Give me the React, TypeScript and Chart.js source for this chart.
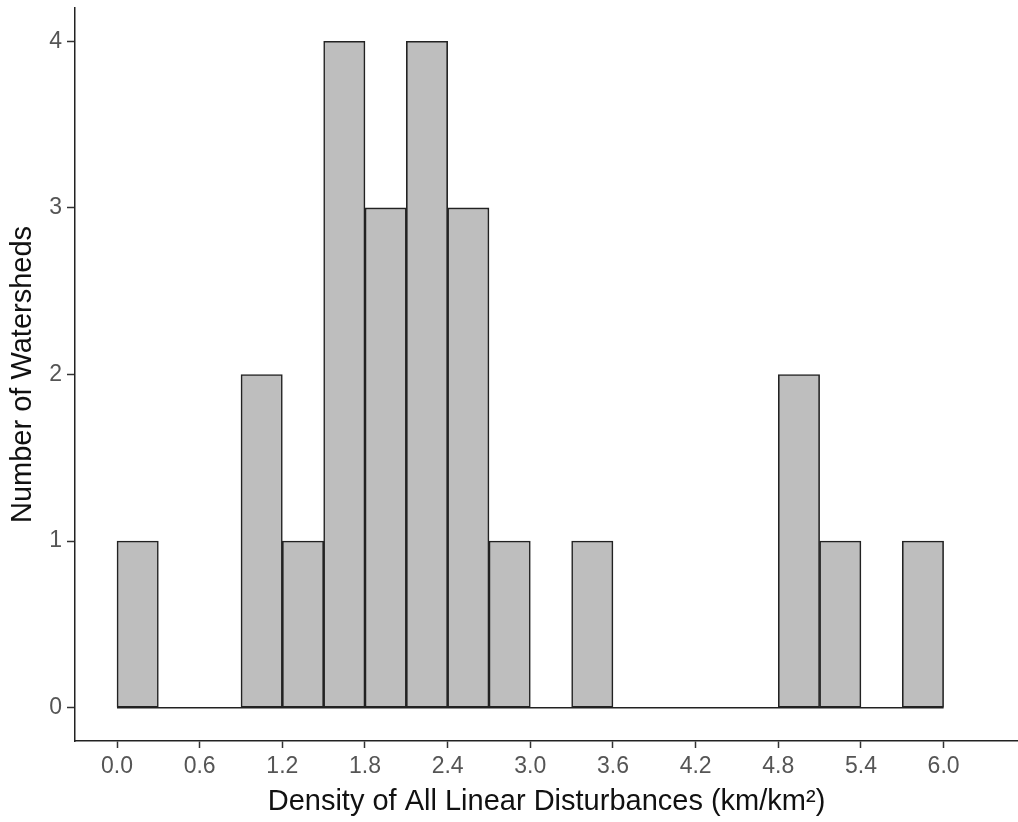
import React, { useEffect, useRef } from "react";
import { Chart, registerables } from "chart.js";

Chart.register(...registerables);

const binCenters = [0.15, 0.45, 0.75, 1.05, 1.35, 1.65, 1.95, 2.25, 2.55, 2.85, 3.15, 3.45, 3.75, 4.05, 4.35, 4.65, 4.95, 5.25, 5.55, 5.85];
const counts = [1, 0, 0, 2, 1, 4, 3, 4, 3, 1, 0, 1, 0, 0, 0, 0, 2, 1, 0, 1];
const baselineX = [0, 6];
const xTicks = [0, 0.6, 1.2, 1.8, 2.4, 3.0, 3.6, 4.2, 4.8, 5.4, 6.0];
const yTicks = [0, 1, 2, 3, 4];
const xTitle = "Density of All Linear Disturbances (km/km²)";
const yTitle = "Number of Watersheds";

export default function App() {
  const ref = useRef<HTMLCanvasElement>(null);
  useEffect(() => {
    const font = "'Liberation Sans', Arial, sans-serif";
    const chart = new Chart(ref.current!, {
      data: {
        datasets: [
          {
            type: "bar",
            data: binCenters.map((x, i) => ({ x, y: counts[i] })),
            backgroundColor: "#BEBEBE",
            borderColor: "#222222",
            borderWidth: 1.6,
            borderSkipped: false,
            barPercentage: 1,
            categoryPercentage: 1,
            order: 2,
          },
          {
            type: "line",
            data: baselineX.map((x) => ({ x, y: 0 })),
            borderColor: "#222222",
            borderWidth: 1.6,
            pointRadius: 0,
            order: 1,
          },
        ],
      },
      options: {
        animation: false,
        responsive: false,
        layout: { padding: { top: 8, right: 0, left: 0, bottom: 0 } },
        plugins: { legend: { display: false }, tooltip: { enabled: false } },
        scales: {
          x: {
            type: "linear",
            offset: false,
            min: -0.305,
            max: 6.54,
            afterBuildTicks: (s: any) => {
              s.ticks = xTicks.map((v) => ({ value: v }));
            },
            afterFit: (s: any) => {
              s.height = 81;
              s.paddingLeft = 0;
              s.paddingRight = 0;
            },
            ticks: {
              callback: (v: any) => Number(v).toFixed(1),
              color: "#555555",
              font: { family: font, size: 23 },
              padding: 5,
              maxRotation: 0,
              autoSkip: false,
            },
            grid: { offset: false, drawOnChartArea: false, drawTicks: true, tickLength: 7, tickColor: "#333333", tickWidth: 1.5 },
            border: { display: true, color: "#222222", width: 1.5 },
            title: { display: true, text: xTitle, color: "#111111", font: { family: font, size: 29 }, padding: { top: 0, bottom: 3 } },
          },
          y: {
            type: "linear",
            min: -0.2,
            max: 4.2,
            afterBuildTicks: (s: any) => {
              s.ticks = yTicks.map((v) => ({ value: v }));
            },
            afterFit: (s: any) => {
              s.width = 75;
              s.paddingTop = 0;
              s.paddingBottom = 0;
            },
            ticks: {
              color: "#555555",
              font: { family: font, size: 23 },
              padding: 5,
            },
            grid: { drawOnChartArea: false, drawTicks: true, tickLength: 8, tickColor: "#333333", tickWidth: 1.5 },
            border: { display: true, color: "#222222", width: 1.5 },
            title: { display: true, text: yTitle, color: "#111111", font: { family: font, size: 29 }, padding: { top: 6, bottom: 0 } },
          },
        },
      },
    } as any);
    return () => chart.destroy();
  }, []);
  return (
    <div style={{ position: "fixed", left: 0, top: 0, width: 1018, height: 822, background: "#fff" }}>
      <canvas ref={ref} width={1018} height={822} style={{ display: "block" }} />
    </div>
  );
}
